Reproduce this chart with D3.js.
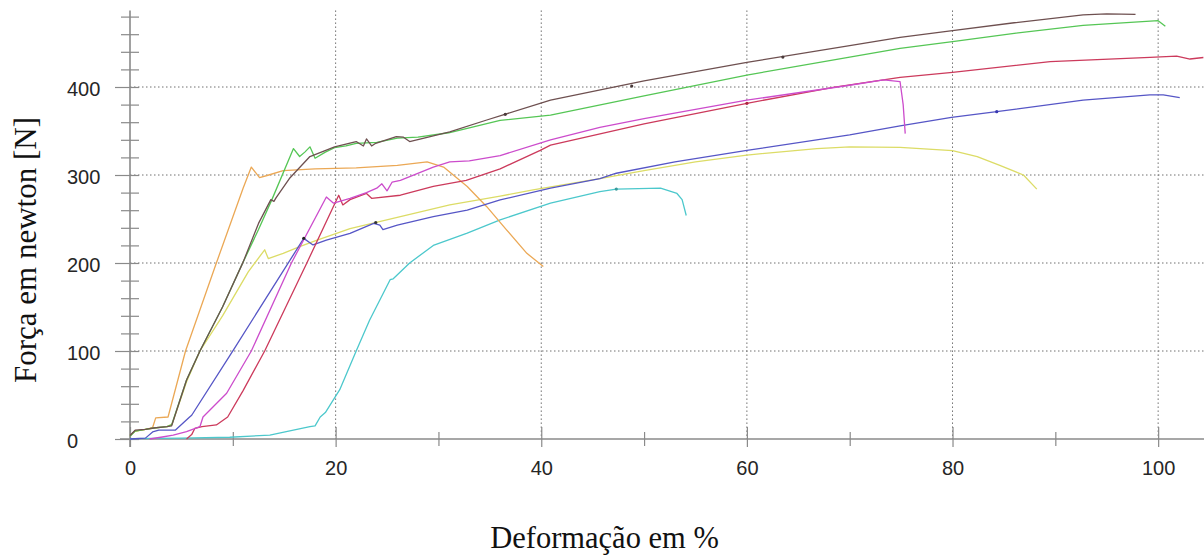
<!DOCTYPE html>
<html>
<head>
<meta charset="utf-8">
<script src="https://cdn.jsdelivr.net/npm/d3@7"></script>
<style>
  html, body { margin: 0; padding: 0; background: #fff; }
  svg { display: block; }
</style>
</head>
<body>
<script>
// ---- Data (strain %, force N) ----
const xMajorTicks = [0, 20, 40, 60, 80, 100];
const xMinorTicks = [10, 30, 50, 70, 90];
const yMajorTicks = [0, 100, 200, 300, 400];
const yMinorTicks = [20, 40, 60, 80, 120, 140, 160, 180, 220, 240, 260, 280, 320, 340, 360, 380, 420, 440, 460, 480];

const xLabel = "Deformação em %";
const yLabel = "Força em newton [N]";

const orangeCurve = [[0,4],[0.5,9],[1.5,11],[2.2,13],[2.5,24],[3.7,25],[5.4,100],[8.4,200],[11.0,285],[11.8,309],[12.6,297],[13.5,300],[14.9,305],[18,307],[22,308],[26,311],[28.9,315],[30.5,309],[32.8,287],[34.7,264],[36.6,238],[38.6,211],[40.2,196]];
const greenCurve = [[0,3],[0.5,9],[1.5,11],[2.3,12.5],[3.6,14],[4.05,16],[5.5,67],[6.8,100],[9,150],[11,201],[12.5,238],[13.8,272],[15.9,330],[16.5,321],[17.0,326],[17.5,332],[18,319],[19,326],[19.9,331],[21,333],[22,336],[24,337],[26,342],[28,343],[31,348],[36,362],[40.9,368],[50,390],[60,413.6],[70,434],[74.9,444],[80,451.5],[86,461],[92.7,470],[100,475.4],[100.7,469]];
const brownCurve = [[0,4],[0.5,10],[1.5,11],[2.3,12.5],[3.6,14],[4.05,15],[5.5,67],[6.8,100],[9,150],[11,201],[12.5,245],[13.7,272],[14.0,270],[14.2,274],[15.5,296],[17.5,321],[19.9,332],[21,335],[22,338],[22.7,333],[23,341],[23.5,333],[23.9,336],[25.9,343.5],[26.6,343],[27.2,338],[29,343],[31.1,349],[34.7,362.5],[40.9,385],[50,407],[60,428],[70,447],[74.9,456.5],[80,464],[86,473],[92.7,482],[95,483],[97.8,482.5]];
const yellowCurve = [[0,4],[0.5,9],[1.5,11],[2.3,12.5],[3.6,14],[4.1,17],[5.5,65],[6.8,100],[9,140],[11.5,190],[13.1,215],[13.45,205],[14.9,211],[16.5,218.5],[18.2,226],[21.4,239],[26.3,252.6],[31.1,266],[36,276],[39.2,283],[45.7,296],[50,305],[55,315],[60,322.7],[66.8,330],[70,332],[74.9,331.5],[80,327.6],[82.4,320.8],[84.6,311],[86.9,300],[88.2,284]];
const blueCurve = [[0,0],[1.5,1],[2.2,8],[2.8,10],[4.4,10],[5.8,25],[6.0,27],[10.05,101],[16.9,228],[17.8,220.5],[19.1,226],[21.4,233.7],[23.7,245],[24.3,243],[24.6,238],[26,243],[29.5,252.6],[32.8,260],[36,271.6],[40.9,285],[45.7,296],[47.3,302],[53,315],[60,328],[70,345.5],[74.9,355.7],[79.9,365.5],[84.3,372],[92.7,385],[99.2,391],[100.5,391],[102.1,388]];
const magentaCurve = [[1.9,0],[3,2],[4.2,4.5],[5.5,8.3],[6.8,14],[7.1,25],[9.4,52],[11.8,100],[15.7,200],[19.1,275],[19.8,268],[21.4,273.5],[23,280],[24,285],[24.5,290],[25,282],[25.5,292],[26.3,294],[29.5,309],[31.1,315],[33,316],[36,322],[40.9,340],[45.7,354],[50,364],[60,385],[70,402],[73.3,408],[74.9,406],[75.2,380],[75.4,347]];
const redCurve = [[5.5,0],[6,5],[6.3,12],[7,14],[8.4,16],[9.5,25],[11,55],[13.1,100],[17.2,200],[20.3,277],[20.7,266],[21.4,272],[23,279],[23.5,273.5],[26.3,277],[29.5,287],[32.7,294],[36,307],[39.9,328],[40.9,334],[50,358],[60,381.5],[68.4,399.6],[74.9,411],[80,416.7],[89.5,428.8],[99.2,433.7],[101.8,435],[103.1,431.8],[104.4,433.5]];
const cyanCurve = [[0,0.5],[5,1],[9.7,2],[13.6,4.5],[15.2,8.3],[17.5,14],[18,15],[18.5,25],[19,30],[20.4,56],[22,100],[23.3,135],[25.3,181],[25.6,182],[27.2,200],[29.5,220],[32.8,234],[36,249],[40.9,268],[45.7,281],[47.3,284],[51.6,285],[53.2,279],[53.7,272],[54.1,254]];

// small dark blobs visible on some curves
const markerStrain = [16.9, 23.9, 47.3, 60, 84.3, 36.5, 48.8, 63.5];
const markerForce = [228, 246, 284, 381.5, 372, 369, 401, 434];
const markerColors = ["#222", "#333", "#3a9a9a", "#b02040", "#3838b0", "#4a3a3a", "#4a3a3a", "#4a3a3a"];

const seriesList = [
  { name: "cyan", data: cyanCurve, color: "#4cc8cc" },
  { name: "yellow", data: yellowCurve, color: "#dcdc66" },
  { name: "orange", data: orangeCurve, color: "#eba855" },
  { name: "blue", data: blueCurve, color: "#5656c6" },
  { name: "red", data: redCurve, color: "#cc3a5c" },
  { name: "magenta", data: magentaCurve, color: "#cc4ccc" },
  { name: "green", data: greenCurve, color: "#55c655" },
  { name: "brown", data: brownCurve, color: "#6e5050" }
];

// ---- Layout ----
const W = 1204, H = 557;
const x = d3.scaleLinear().domain([0, 104.46]).range([130, 1204]);
const y = d3.scaleLinear().domain([0, 487]).range([439, 10.44]);

const svg = d3.select("body").append("svg").attr("width", W).attr("height", H);

// grid
const grid = svg.append("g").attr("stroke", "#707070").attr("stroke-width", 1).attr("stroke-dasharray", "1.5,2.5");
grid.selectAll("line.v").data(xMajorTicks.filter(d => d > 0)).enter().append("line")
  .attr("x1", d => x(d)).attr("x2", d => x(d)).attr("y1", y(487)).attr("y2", y(0));
grid.selectAll("line.h").data(yMajorTicks.filter(d => d > 0)).enter().append("line")
  .attr("x1", x(0)).attr("x2", W).attr("y1", d => y(d)).attr("y2", d => y(d));

// axes lines
const axisColor = "#8a8a8a";
svg.append("line").attr("x1", 120).attr("x2", W).attr("y1", y(0)).attr("y2", y(0))
  .attr("stroke", axisColor).attr("stroke-width", 1.6);
svg.append("line").attr("x1", x(0)).attr("x2", x(0)).attr("y1", y(487)).attr("y2", y(0) + 8)
  .attr("stroke", axisColor).attr("stroke-width", 1.6);

// x axis major
const gx = svg.append("g").attr("transform", `translate(0,${y(0)})`)
  .call(d3.axisBottom(x).tickValues(xMajorTicks).tickFormat(d3.format("d")).tickSize(8).tickPadding(14));
gx.select(".domain").remove();
gx.selectAll(".tick line").attr("y1", -12).attr("y2", 8).attr("stroke", axisColor).attr("stroke-width", 1.2);
gx.selectAll(".tick text").attr("font-family", "'Liberation Sans', Arial, sans-serif")
  .attr("font-size", 20).attr("fill", "#262626").attr("dy", "0.71em");

// x axis minor
const gxm = svg.append("g").attr("transform", `translate(0,${y(0)})`)
  .call(d3.axisBottom(x).tickValues(xMinorTicks).tickFormat("").tickSize(7));
gxm.select(".domain").remove();
gxm.selectAll(".tick line").attr("y1", -7).attr("y2", 7).attr("stroke", axisColor).attr("stroke-width", 1.2);

// y axis major
const gy = svg.append("g").attr("transform", `translate(${x(0)},0)`)
  .call(d3.axisLeft(y).tickValues(yMajorTicks).tickFormat(d3.format("d")).tickSize(15));
gy.select(".domain").remove();
gy.selectAll(".tick line").attr("x1", -15).attr("x2", 9).attr("stroke", axisColor).attr("stroke-width", 1.2);
gy.selectAll(".tick text").attr("font-family", "'Liberation Sans', Arial, sans-serif")
  .attr("font-size", 20).attr("fill", "#262626").attr("text-anchor", "start")
  .attr("x", 67 - 130).attr("dy", "0.42em");

// y axis minor
const gym = svg.append("g").attr("transform", `translate(${x(0)},0)`)
  .call(d3.axisLeft(y).tickValues(yMinorTicks).tickFormat("").tickSize(9));
gym.select(".domain").remove();
gym.selectAll(".tick line").attr("x1", -9).attr("x2", 9).attr("stroke", axisColor).attr("stroke-width", 1.2);

// curves
const line = d3.line().x(d => x(d[0])).y(d => y(d[1])).curve(d3.curveLinear);
svg.append("g").selectAll("path").data(seriesList).enter().append("path")
  .attr("d", d => line(d.data))
  .attr("fill", "none")
  .attr("stroke", d => d.color)
  .attr("stroke-width", 1.3)
  .attr("stroke-linejoin", "round");

// small blobs
svg.append("g").selectAll("circle").data(markerStrain).enter().append("circle")
  .attr("cx", d => x(d))
  .attr("cy", (d, i) => y(markerForce[i]))
  .attr("r", 1.6)
  .attr("fill", (d, i) => markerColors[i]);

// axis titles
svg.append("text").attr("x", 604.5).attr("y", 548).attr("text-anchor", "middle")
  .attr("font-family", "'Liberation Serif', 'Times New Roman', serif").attr("font-size", 30.5)
  .attr("fill", "#111").text(xLabel);
svg.append("text").attr("transform", "translate(36,250) rotate(-90)").attr("text-anchor", "middle")
  .attr("font-family", "'Liberation Serif', 'Times New Roman', serif").attr("font-size", 31)
  .attr("fill", "#111").text(yLabel);
</script>
</body>
</html>
